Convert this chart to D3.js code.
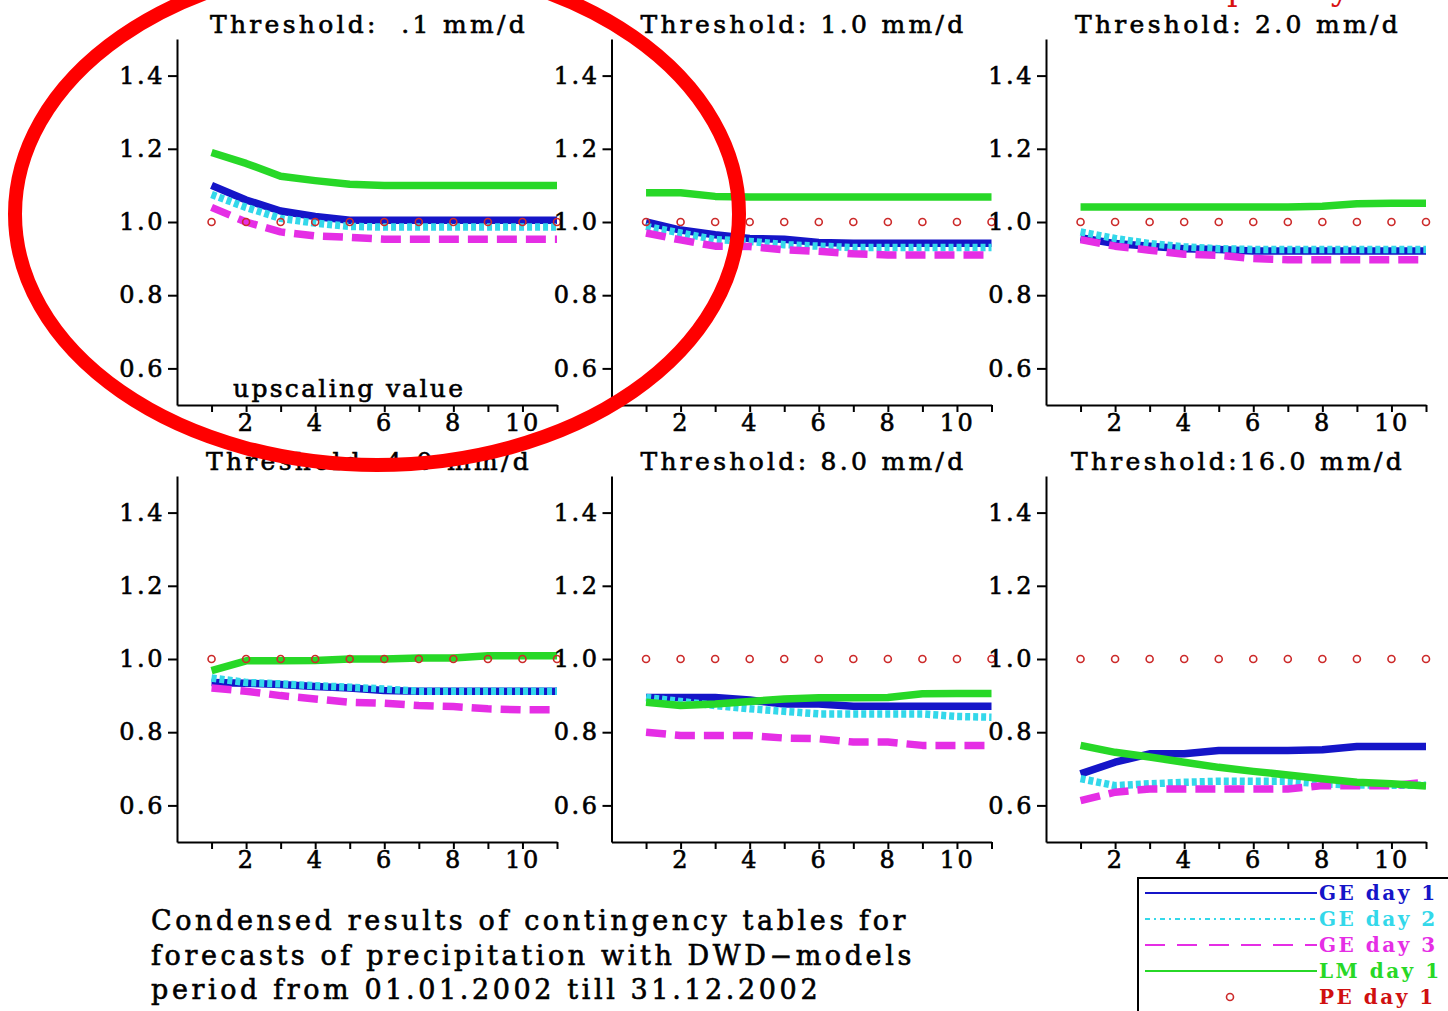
<!DOCTYPE html>
<html>
<head>
<meta charset="utf-8">
<script src="https://cdn.jsdelivr.net/npm/d3@7"></script>
<style>
  body { margin: 0; background: #fff; }
  svg { display: block; }
  text { white-space: pre; }
</style>
</head>
<body>
<svg width="1448" height="1011"></svg>
<script>

// upscaling values on the x axis
const upscaling = [1, 2, 3, 4, 5, 6, 7, 8, 9, 10, 11];
const xLabels = [2, 4, 6, 8, 10];
const yTicks = [0.6, 0.8, 1.0, 1.2, 1.4];

const titles = [
  "Threshold:  .1 mm/d", "Threshold: 1.0 mm/d", "Threshold: 2.0 mm/d",
  "Threshold: 4.0 mm/d", "Threshold: 8.0 mm/d", "Threshold:16.0 mm/d"
];

// one row per threshold panel
const geDay1 = [
  [1.10, 1.06, 1.03, 1.015, 1.005, 1.005, 1.005, 1.005, 1.005, 1.005, 1.005],
  [1.00, 0.978, 0.965, 0.955, 0.953, 0.944, 0.942, 0.942, 0.942, 0.942, 0.942],
  [0.957, 0.941, 0.934, 0.927, 0.925, 0.921, 0.921, 0.921, 0.921, 0.921, 0.921],
  [0.936, 0.934, 0.93, 0.925, 0.921, 0.914, 0.912, 0.912, 0.912, 0.912, 0.912],
  [0.895, 0.895, 0.895, 0.888, 0.877, 0.877, 0.871, 0.871, 0.871, 0.871, 0.871],
  [0.686, 0.718, 0.741, 0.741, 0.75, 0.75, 0.75, 0.752, 0.761, 0.761, 0.761]
];
const geDay2 = [
  [1.075, 1.04, 1.01, 0.997, 0.988, 0.986, 0.986, 0.986, 0.986, 0.986, 0.986],
  [0.988, 0.97, 0.952, 0.947, 0.938, 0.934, 0.93, 0.93, 0.93, 0.93, 0.93],
  [0.973, 0.955, 0.941, 0.932, 0.927, 0.925, 0.925, 0.925, 0.925, 0.925, 0.925],
  [0.948, 0.936, 0.932, 0.927, 0.923, 0.918, 0.912, 0.912, 0.912, 0.912, 0.912],
  [0.895, 0.884, 0.873, 0.864, 0.857, 0.85, 0.85, 0.85, 0.85, 0.843, 0.841],
  [0.673, 0.654, 0.659, 0.663, 0.666, 0.666, 0.666, 0.659, 0.656, 0.655, 0.655]
];
const geDay3 = [
  [1.04, 1.00, 0.973, 0.962, 0.958, 0.953, 0.953, 0.953, 0.953, 0.953, 0.953],
  [0.97, 0.951, 0.934, 0.933, 0.924, 0.92, 0.913, 0.91, 0.91, 0.91, 0.91],
  [0.952, 0.934, 0.923, 0.912, 0.909, 0.90, 0.897, 0.897, 0.897, 0.897, 0.897],
  [0.921, 0.912, 0.90, 0.891, 0.882, 0.879, 0.873, 0.87, 0.864, 0.861, 0.861],
  [0.80, 0.791, 0.791, 0.791, 0.784, 0.782, 0.773, 0.773, 0.764, 0.764, 0.764],
  [0.613, 0.636, 0.645, 0.645, 0.645, 0.645, 0.645, 0.654, 0.654, 0.654, 0.663]
];
const lmDay1 = [
  [1.19, 1.16, 1.125, 1.113, 1.103, 1.10, 1.10, 1.10, 1.10, 1.10, 1.10],
  [1.08, 1.08, 1.07, 1.068, 1.068, 1.068, 1.068, 1.068, 1.068, 1.068, 1.068],
  [1.041, 1.041, 1.041, 1.041, 1.041, 1.041, 1.041, 1.043, 1.05, 1.051, 1.051],
  [0.968, 0.995, 0.995, 0.996, 1.0, 1.0, 1.003, 1.003, 1.009, 1.009, 1.009],
  [0.882, 0.873, 0.877, 0.884, 0.891, 0.894, 0.894, 0.895, 0.905, 0.906, 0.906],
  [0.764, 0.745, 0.732, 0.718, 0.704, 0.693, 0.683, 0.673, 0.663, 0.659, 0.653]
];
const peDay1 = [1, 1, 1, 1, 1, 1, 1, 1, 1, 1, 1];

const series = [
  { name: "GE day 1", data: geDay1, color: "#1515c8", dash: null, legendDash: null },
  { name: "GE day 2", data: geDay2, color: "#33d8ea", dash: "5,3", legendDash: "5,4,2,4" },
  { name: "GE day 3", data: geDay3, color: "#e52ee5", dash: "20,9", legendDash: "20,12" },
  { name: "LM day 1", data: lmDay1, color: "#27d827", dash: null, legendDash: null }
];
const peColor = "#cc2a2a";

const captionLines = [
  "Condensed results of contingency tables for",
  "forecasts of precipitation with DWD\u2212models",
  "period from 01.01.2002 till 31.12.2002"
];

const font = "DejaVu Serif, Liberation Serif, serif";
const svg = d3.select("svg");

// a thin outline makes the regular face look a bit heavier, like the original
function heavy(sel, color) {
  sel.attr("stroke", color).attr("stroke-width", 0.6);
}

// red heading, cut off at the top edge of the image
svg.append("text")
  .attr("x", 1150)
  .attr("y", 0)
  .attr("font-family", font)
  .attr("font-size", 34)
  .style("letter-spacing", "2px")
  .attr("fill", "#d81010")
  .text("Frequency Bias");

// panel geometry
const colLeft = [177, 611.5, 1046];
const rowTop = [39, 476];
const plotW = 380, plotH = 366;

titles.forEach(function (title, i) {
  let left = colLeft[i % 3];
  let top = rowTop[Math.floor(i / 3)];

  let x = d3.scaleLinear().domain([0, 11]).range([0, plotW]);
  let y = d3.scaleLinear().domain([0.5, 1.5]).range([plotH, 0]);

  let g = svg.append("g").attr("transform", `translate(${left},${top})`);

  // axes
  let yAxis = g.append("g")
    .call(d3.axisLeft(y).tickValues(yTicks).tickSize(9).tickPadding(3)
      .tickSizeOuter(0).tickFormat(d3.format(".1f")));
  let xAxis = g.append("g")
    .attr("transform", `translate(0,${plotH})`)
    .call(d3.axisBottom(x).tickValues(upscaling).tickSize(7).tickPadding(2)
      .tickSizeOuter(0).tickFormat(d => xLabels.includes(d) ? d : ""));

  [yAxis, xAxis].forEach(function (a) {
    a.attr("font-family", font).attr("font-size", 24);
    a.selectAll("path, line").attr("stroke", "#000").attr("stroke-width", 2);
    a.selectAll("text").attr("fill", "#000").style("letter-spacing", "2.5px").call(heavy, "#000");
  });

  // title
  g.append("text")
    .attr("x", plotW / 2 + 2)
    .attr("y", -6)
    .attr("text-anchor", "middle")
    .attr("font-family", font)
    .attr("font-size", 25)
    .style("letter-spacing", "3.3px")
    .attr("fill", "#000")
    .call(heavy, "#000")
    .text(title);

  if (i == 0) {
    g.append("text")
      .attr("x", 56)
      .attr("y", plotH - 8)
      .attr("font-family", font)
      .attr("font-size", 25)
      .style("letter-spacing", "2.3px")
      .attr("fill", "#000")
      .call(heavy, "#000")
      .text("upscaling value");
  }

  // lines
  let line = d3.line()
    .x((d, k) => x(upscaling[k]))
    .y(d => y(d));

  series.forEach(function (s) {
    g.append("path")
      .datum(s.data[i])
      .attr("d", line)
      .attr("fill", "none")
      .attr("stroke", s.color)
      .attr("stroke-width", 7.5)
      .attr("stroke-dasharray", s.dash)
      .attr("stroke-linejoin", "round");
  });

  g.selectAll(".pe")
    .data(peDay1)
    .enter()
    .append("circle")
    .attr("cx", (d, k) => x(upscaling[k]))
    .attr("cy", d => y(d))
    .attr("r", 3.5)
    .attr("fill", "none")
    .attr("stroke", peColor)
    .attr("stroke-width", 1.6);
});

// caption
captionLines.forEach(function (t, k) {
  svg.append("text")
    .attr("x", 151)
    .attr("y", 930 + k * 34.5)
    .attr("font-family", font)
    .attr("font-size", 27)
    .style("letter-spacing", "3.6px")
    .attr("fill", "#000")
    .call(heavy, "#000")
    .text(t);
});

// legend box
let legend = svg.append("g");
legend.append("rect")
  .attr("x", 1138)
  .attr("y", 878)
  .attr("width", 340)
  .attr("height", 160)
  .attr("fill", "#fff")
  .attr("stroke", "#000")
  .attr("stroke-width", 2);

let legendItems = series.map(s => ({ name: s.name, color: s.color, dash: s.legendDash }))
  .concat([{ name: "PE day 1", color: "#d01010", marker: true }]);

legendItems.forEach(function (d, k) {
  let ly = 893 + k * 26;
  if (d.marker) {
    legend.append("circle")
      .attr("cx", 1230)
      .attr("cy", ly)
      .attr("r", 3.5)
      .attr("fill", "none")
      .attr("stroke", peColor)
      .attr("stroke-width", 1.6);
  } else {
    legend.append("line")
      .attr("x1", 1145)
      .attr("x2", 1317)
      .attr("y1", ly)
      .attr("y2", ly)
      .attr("stroke", d.color)
      .attr("stroke-width", 2)
      .attr("stroke-dasharray", d.dash);
  }
  legend.append("text")
    .attr("x", 1319)
    .attr("y", ly + 7)
    .attr("font-family", font)
    .attr("font-size", 20)
    .attr("font-weight", "bold")
    .style("letter-spacing", "2.5px")
    .attr("fill", d.color)
    .text(d.name);
});

// red annotation ellipse round the first panel
svg.append("ellipse")
  .attr("cx", 377)
  .attr("cy", 214)
  .attr("rx", 362)
  .attr("ry", 251)
  .attr("fill", "none")
  .attr("stroke", "#ff0000")
  .attr("stroke-width", 14);

</script>
</body>
</html>
